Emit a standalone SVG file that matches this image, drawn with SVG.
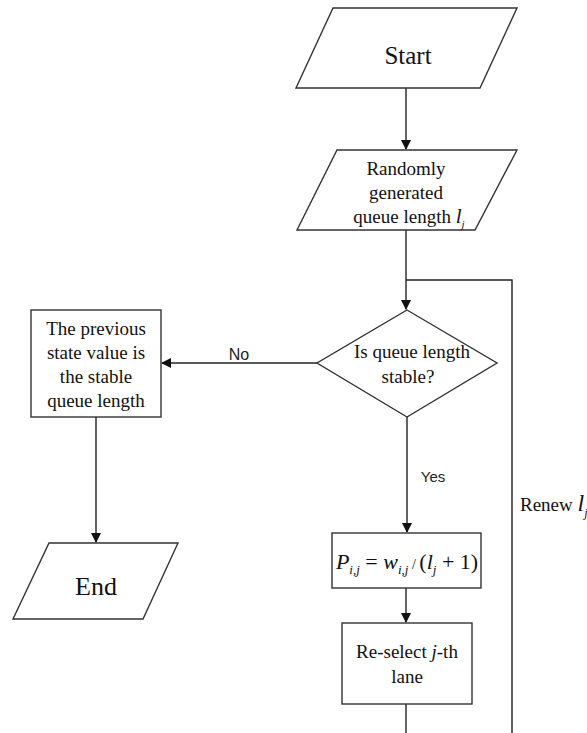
<svg xmlns="http://www.w3.org/2000/svg" width="587" height="733" viewBox="0 0 587 733">
<style>
.s{fill:#fff;stroke:#333;stroke-width:1.4}
.c{fill:none;stroke:#222;stroke-width:1.4}
.t{font-family:"Liberation Serif",serif;font-size:19px;fill:#111;text-anchor:middle}
.l{font-family:"Liberation Sans",sans-serif;font-size:15px;fill:#222;text-anchor:middle}
.i{font-style:italic}
</style>
<defs>
<marker id="a" markerWidth="10" markerHeight="10" refX="9" refY="5" orient="auto" markerUnits="userSpaceOnUse">
<path d="M0,0 L10,5 L0,10 Z" fill="#111"/>
</marker>
</defs>
<rect width="587" height="733" fill="#fff"/>
<g id="connectors">
<line class="c" x1="406" y1="88" x2="406" y2="149" marker-end="url(#a)"/>
<line class="c" x1="406" y1="230" x2="406" y2="309" marker-end="url(#a)"/>
<polyline class="c" points="406,280 512,280 512,733"/>
<line class="c" x1="317" y1="363" x2="162" y2="363" marker-end="url(#a)"/>
<text class="l" x="239" y="360" style="font-size:16px">No</text>
<line class="c" x1="407" y1="417" x2="407" y2="532" marker-end="url(#a)"/>
<text class="l" x="433" y="482">Yes</text>
<line class="c" x1="406" y1="588" x2="406" y2="622" marker-end="url(#a)"/>
<line class="c" x1="406" y1="704" x2="406" y2="733"/>
<line class="c" x1="96" y1="417" x2="96" y2="542" marker-end="url(#a)"/>
<text class="t" x="520" y="511" style="text-anchor:start">Renew <tspan class="i" style="font-size:24px">l</tspan><tspan class="i" style="font-size:12px" dy="6">j</tspan></text>
</g>
<g id="start">
<polygon class="s" points="333,8 517,8 480,88 296,88"/>
<text class="t" x="408" y="64" style="font-size:25px">Start</text>
</g>
<g id="random">
<polygon class="s" points="337,150 517,150 475,230 297,230"/>
<text class="t" x="406" y="175">Randomly</text>
<text class="t" x="406" y="199">generated</text>
<text class="t" x="409" y="223">queue length <tspan class="i" style="font-size:21px">l</tspan><tspan class="i" style="font-size:11px" dy="5">j</tspan></text>
</g>
<g id="decision">
<polygon class="s" points="407,310 497,363 407,417 317,363"/>
<text class="t" x="412" y="358">Is queue length</text>
<text class="t" x="408" y="383">stable?</text>
</g>
<g id="stable">
<rect class="s" x="31" y="310" width="130" height="107"/>
<text class="t" x="96" y="335">The previous</text>
<text class="t" x="96" y="359">state value is</text>
<text class="t" x="96" y="383">the stable</text>
<text class="t" x="96" y="407">queue length</text>
</g>
<g id="end">
<polygon class="s" points="49,543 178,543 143,619 13,619"/>
<text class="t" x="96" y="595" style="font-size:26px">End</text>
</g>
<g id="prob">
<rect class="s" x="332" y="533" width="149" height="55"/>
<text class="t" x="407" y="569" style="font-size:22px"><tspan class="i">P</tspan><tspan class="i" style="font-size:13px" dy="5">i,j</tspan><tspan dy="-5"> = </tspan><tspan class="i">w</tspan><tspan class="i" style="font-size:13px" dy="5">i,j</tspan><tspan dy="-5" style="font-size:14px"> / </tspan><tspan>(</tspan><tspan class="i">l</tspan><tspan class="i" style="font-size:13px" dy="5">j</tspan><tspan dy="-5"> + 1)</tspan></text>
</g>
<g id="reselect">
<rect class="s" x="342" y="623" width="130" height="81"/>
<text class="t" x="407" y="658">Re-select <tspan class="i">j</tspan>-th</text>
<text class="t" x="407" y="683">lane</text>
</g>
</svg>
